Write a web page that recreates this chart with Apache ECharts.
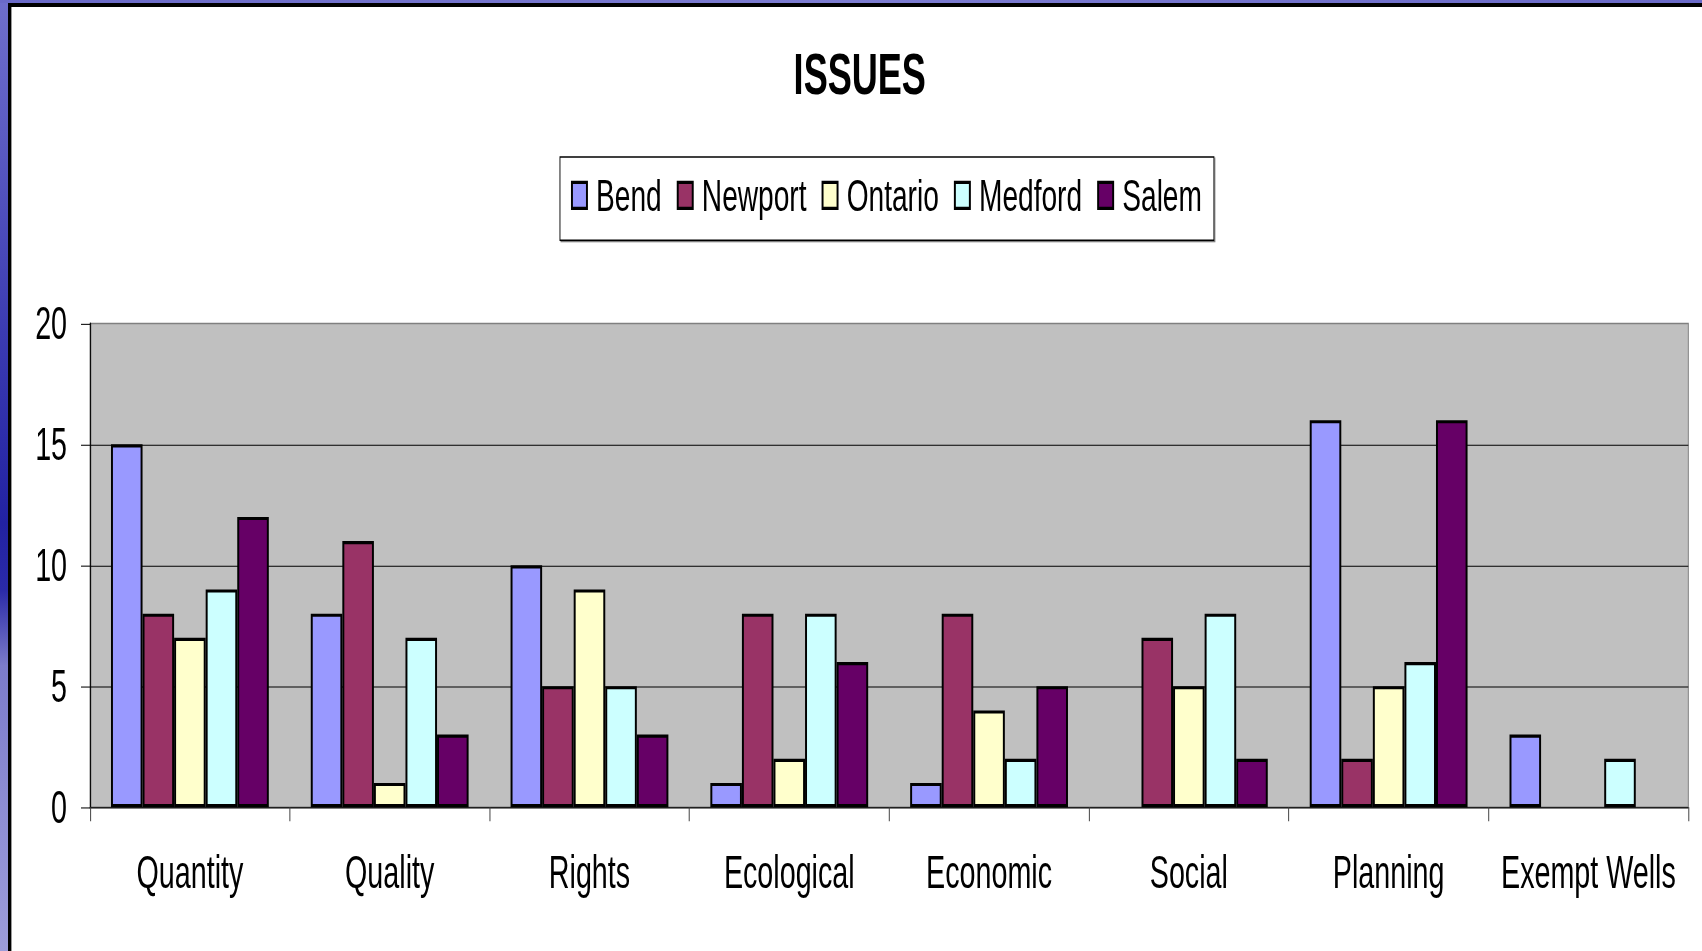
<!DOCTYPE html>
<html>
<head>
<meta charset="utf-8">
<script src="https://cdn.jsdelivr.net/npm/echarts@6/dist/echarts.min.js"></script>
<style>
html,body{margin:0;padding:0;background:#fff;overflow:hidden;}
#wrap{position:absolute;left:0;top:0;width:1702px;height:951px;overflow:hidden;background:#fff;}
#chart{position:absolute;left:0;top:0;width:2075.6px;height:731.54px;transform:scale(0.82,1.3);transform-origin:0 0;}
.f{position:absolute;}
</style>
</head>
<body>
<div id="wrap">
<div id="chart"></div>
<div class="f" style="left:0;top:0;width:8px;height:951px;background:linear-gradient(to bottom,#6f6fcc 0%,#5a5ac2 15%,#3b3bb2 35%,#2222a2 55%,#2a2aa8 62%,#7c7cca 70%,#8d8dd4 85%,#9c9cda 100%);"></div>
<div class="f" style="left:0;top:0;width:1702px;height:3px;background:linear-gradient(to right,#6a6ac8,#7d7dd2 50%,#6a6ac8);"></div>
<div class="f" style="left:8px;top:3px;width:3px;height:948px;background:#000;"></div>
<div class="f" style="left:8px;top:3px;width:1694px;height:4px;background:#000;"></div>
<div class="f" style="left:11px;top:7px;width:1px;height:944px;background:#9a9a9a;"></div>
</div>
<script>
const categories = ['Quantity', 'Quality', 'Rights', 'Ecological', 'Economic', 'Social', 'Planning', 'Exempt Wells'];
const seriesNames = ['Bend', 'Newport', 'Ontario', 'Medford', 'Salem'];
const bend    = [15, 8, 10, 1, 1, null, 16, 3];
const newport = [8, 11, 5, 8, 8, 7, 2, null];
const ontario = [7, 1, 9, 2, 4, 5, 5, null];
const medford = [9, 7, 5, 8, 2, 8, 6, 2];
const salem   = [12, 3, 3, 6, 5, 2, 16, null];
const yTicks = [0, 5, 10, 15, 20];
const colors = ['#9999FF', '#993366', '#FFFFCC', '#CCFFFF', '#660066'];

const FONT = '"Liberation Sans", Arial, sans-serif';
const values = [bend, newport, ontario, medford, salem];

const chart = echarts.init(document.getElementById('chart'), null, {renderer: 'svg'});
chart.setOption({
  animation: false,
  backgroundColor: '#ffffff',
  title: {
    text: 'ISSUES',
    left: 1043.5,
    textAlign: 'center',
    top: 29.8,
    textStyle: {fontFamily: FONT, fontWeight: 'bold', fontSize: 44, lineHeight: 44, color: '#000'}
  },
  legend: {
    data: seriesNames,
    left: 682.9,
    top: 120.8,
    padding: [9.5, 14.6, 14.5, 13.4],
    itemGap: 18.3,
    itemWidth: 18.3,
    itemHeight: 20,
    icon: 'rect',
    backgroundColor: '#ffffff',
    borderColor: '#000',
    borderWidth: 1.1,
    shadowColor: '#7f7f7f',
    shadowBlur: 0,
    shadowOffsetX: 1.2,
    shadowOffsetY: 1,
    itemStyle: {borderColor: '#000', borderWidth: 2.4},
    textStyle: {fontFamily: FONT, fontSize: 34.3, lineHeight: 40, color: '#000', padding: [0, 0, 0, 6.1]}
  },
  grid: {
    left: 109.76, right: 17.07, top: 248.8, bottom: 111.1,
    show: true, backgroundColor: '#C0C0C0', borderColor: '#808080', borderWidth: 1.2,
    containLabel: false
  },
  xAxis: {
    type: 'category',
    data: categories,
    axisLine: {show: true, lineStyle: {color: '#000', width: 1}},
    axisTick: {show: true, interval: 0, length: 10.8, lineStyle: {color: '#404040', width: 1.2}},
    axisLabel: {interval: 0, margin: 33, fontFamily: FONT, fontSize: 35, lineHeight: 35, color: '#000'},
    splitLine: {show: false}
  },
  yAxis: {
    type: 'value',
    min: yTicks[0],
    max: yTicks[yTicks.length - 1],
    interval: 5,
    axisLine: {show: true, lineStyle: {color: '#000', width: 1.3}},
    axisTick: {show: true, length: 11, lineStyle: {color: '#000', width: 0.8}},
    axisLabel: {margin: 28, fontFamily: FONT, fontSize: 35, lineHeight: 35, color: '#000'},
    splitLine: {show: true, showMinLine: false, showMaxLine: false, lineStyle: {color: '#000', width: 0.8}}
  },
  series: seriesNames.map((name, i) => ({
    name: name,
    type: 'bar',
    data: values[i].map(v => v === null ? '-' : v),
    barGap: '0%',
    barCategoryGap: '21%',
    itemStyle: {color: colors[i], borderColor: '#000', borderWidth: 2.4}
  }))
});
</script>
</body>
</html>
